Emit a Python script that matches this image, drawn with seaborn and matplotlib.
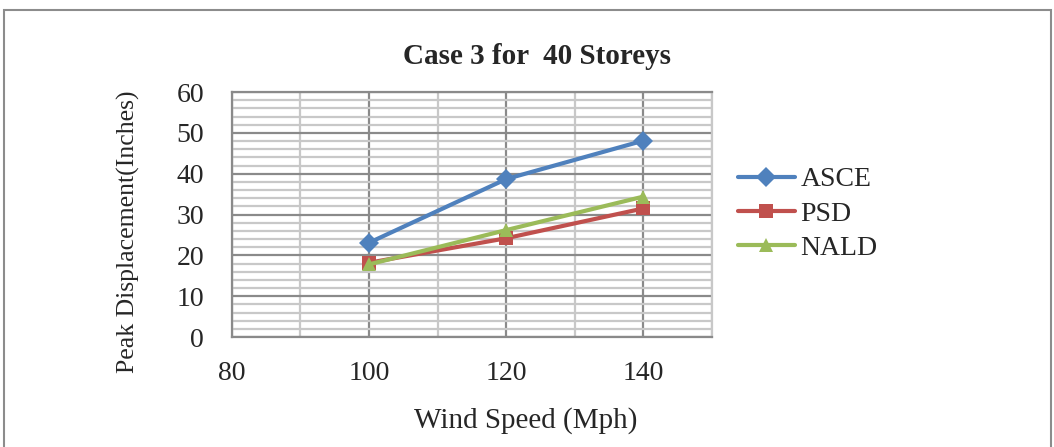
import matplotlib
matplotlib.use("Agg")
import matplotlib.pyplot as plt
import matplotlib.patches as mpatches
from matplotlib.ticker import MultipleLocator
import pandas as pd
import seaborn as sns

# data
wind_speed = [100, 120, 140]
asce = [23.1, 38.7, 48.1]
psd = [18.2, 24.2, 31.5]
nald = [17.8, 26.2, 34.4]
series_names = ["ASCE", "PSD", "NALD"]
x_ticks = [80, 100, 120, 140]

data = pd.DataFrame({
    "Wind Speed (Mph)": wind_speed * 3,
    "Peak Displacement(Inches)": asce + psd + nald,
    "Code": [n for n in series_names for _ in wind_speed],
})

sns.set_style("white")
plt.rcParams["font.family"] = ["Liberation Serif", "DejaVu Serif"]

palette = {"ASCE": "#4F81BD", "PSD": "#C0504D", "NALD": "#9BBB59"}
markers = {"ASCE": "D", "PSD": "s", "NALD": "^"}

fig = plt.figure(figsize=(10.54, 4.47), dpi=100)
ax = fig.add_axes([0.220, 0.246, 0.4555, 0.548])

# outer chart frame
fig.patches.append(mpatches.Rectangle((4 / 1054, -0.05), 1047 / 1054, 1.05 - 10 / 447,
                                      transform=fig.transFigure, fill=False,
                                      edgecolor="#8c8c8c", linewidth=1.5))

sns.lineplot(data=data, x="Wind Speed (Mph)", y="Peak Displacement(Inches)",
             hue="Code", style="Code", palette=palette, markers=markers,
             dashes=False, linewidth=3, markersize=10.5, markeredgewidth=0,
             ax=ax, zorder=5)

ax.set_xlim(80, 150)
ax.set_ylim(0, 60)
ax.set_xticks(x_ticks)
ax.xaxis.set_minor_locator(MultipleLocator(10))
ax.yaxis.set_major_locator(MultipleLocator(10))
ax.yaxis.set_minor_locator(MultipleLocator(2))
ax.grid(which="minor", color="#c8c8c8", linewidth=1.6)
ax.grid(which="major", color="#8a8a8a", linewidth=1.6)
ax.set_axisbelow(True)
for side, spine in ax.spines.items():
    spine.set_color("#8a8a8a" if side in ("left", "top", "bottom") else "#c8c8c8")
    spine.set_linewidth(1.6)

ax.tick_params(axis="both", which="both", length=0, labelsize=20)
ax.tick_params(axis="y", pad=20)
ax.tick_params(axis="x", pad=17)
ax.set_xlabel("Wind Speed (Mph)", fontsize=21)
ax.set_ylabel("Peak Displacement(Inches)", fontsize=18.5)
ax.xaxis.set_label_coords((526 - 232) / 480, -(407 - 337) / 245)
ax.yaxis.set_label_coords(-(232 - 140) / 480, (337 - 232) / 245)

fig.text(537 / 1054, 1 - 57 / 447, "Case 3 for  40 Storeys", ha="center", va="center",
         fontsize=21, fontweight="bold")

leg = ax.legend(loc="center left", bbox_to_anchor=(1.054, 0.502), frameon=False,
                fontsize=20, handlelength=2.05, handletextpad=0.2, labelspacing=0.32,
                borderpad=0, borderaxespad=0)
for h in leg.legend_handles:
    h.set_linewidth(3)

fig.savefig("out.png", dpi=100)
